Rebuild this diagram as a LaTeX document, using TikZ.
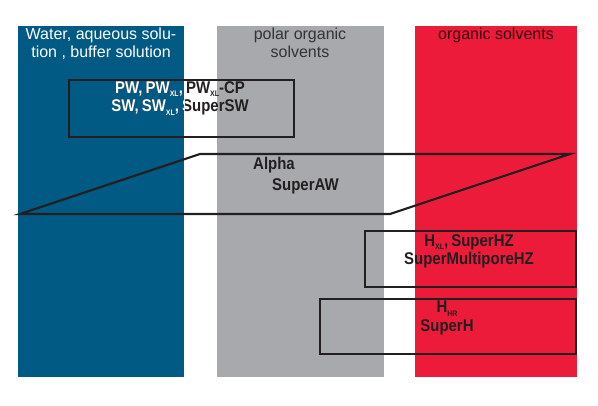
\documentclass[tikz,border=0pt]{standalone}
\usepackage{fontspec}
\setmainfont{Liberation Sans}
\newfontfamily\condfont[FakeStretch=0.88, WordSpace=0.75]{Liberation Sans}
\usepackage{xcolor}
\usetikzlibrary{positioning}

\definecolor{waterblue}{HTML}{005A84}
\definecolor{polargray}{HTML}{A7A9AC}
\definecolor{solvred}{HTML}{ED1B3A}
\definecolor{inkblack}{HTML}{231F20}
\newcommand{\lowsub}[1]{\raisebox{-3.5pt}{\fontsize{8}{9}\selectfont #1}}

\begin{document}
\begin{tikzpicture}[
        x=1pt, y=-1pt,
        band/.style={rectangle, inner sep=0pt, anchor=north west, minimum height=351pt},
        header/.style={font=\fontsize{16}{18}\selectfont, align=center, anchor=north, inner sep=0pt},
        boxframe/.style={draw=inkblack, line width=2.2pt, rectangle, inner sep=0pt, anchor=north west},
        phase/.style={font=\condfont\bfseries\fontsize{17}{18.5}\selectfont, align=center, inner sep=0pt, text=inkblack}
    ]
        \useasboundingbox (0,0) rectangle (598,405);
        % solvent bands
        \node[band, fill=waterblue, minimum width=166pt] (water) at (18,26) {};
        \node[band, fill=polargray, minimum width=167pt] (polar) at (217,26) {};
        \node[band, fill=solvred, minimum width=162pt] (organic) at (415,26) {};
        \node[header, text=white] (waterhead) at (101,27.5) {Water, aqueous solu-\\tion , buffer solution};
        \node[header, text=black!80] (polarhead) at (300,27.5) {polar organic\\solvents};
        \node[header, text=black!78!solvred] (organichead) at (496,27.5) {organic solvents};
        % ranges
        \draw[draw=inkblack, line width=2.2pt, line join=miter] (20,214) -- (390,214) -- (570,154) -- (200,154) -- cycle;
        \node[boxframe, minimum width=225pt, minimum height=57pt] (pwbox) at (68,79) {};
        \node[boxframe, minimum width=211pt, minimum height=56pt] (hzbox) at (364,230) {};
        \node[boxframe, minimum width=256pt, minimum height=55pt] (hbox) at (319,298) {};
        % column names
        \node[phase] (pwtext) at (180,98.5) {PW, PW\lowsub{XL}, PW\lowsub{XL}-CP\\SW, SW\lowsub{XL}, SuperSW};
        \node[phase, anchor=west] (alpha) at (253,165) {Alpha};
        \node[phase, anchor=west] (superaw) at (272,186) {SuperAW};
        \node[phase] (hztext) at (469,251.5) {H\lowsub{XL}, SuperHZ\\SuperMultiporeHZ};
        \node[phase] (htext) at (447,318) {H\lowsub{HR}\\SuperH};
        \begin{scope}
            \clip (water.north west) rectangle (water.south east);
            \node[phase, text=white] at (pwtext) {PW, PW\lowsub{XL}, PW\lowsub{XL}-CP\\SW, SW\lowsub{XL}, SuperSW};
        \end{scope}
    \end{tikzpicture}
\end{document}
